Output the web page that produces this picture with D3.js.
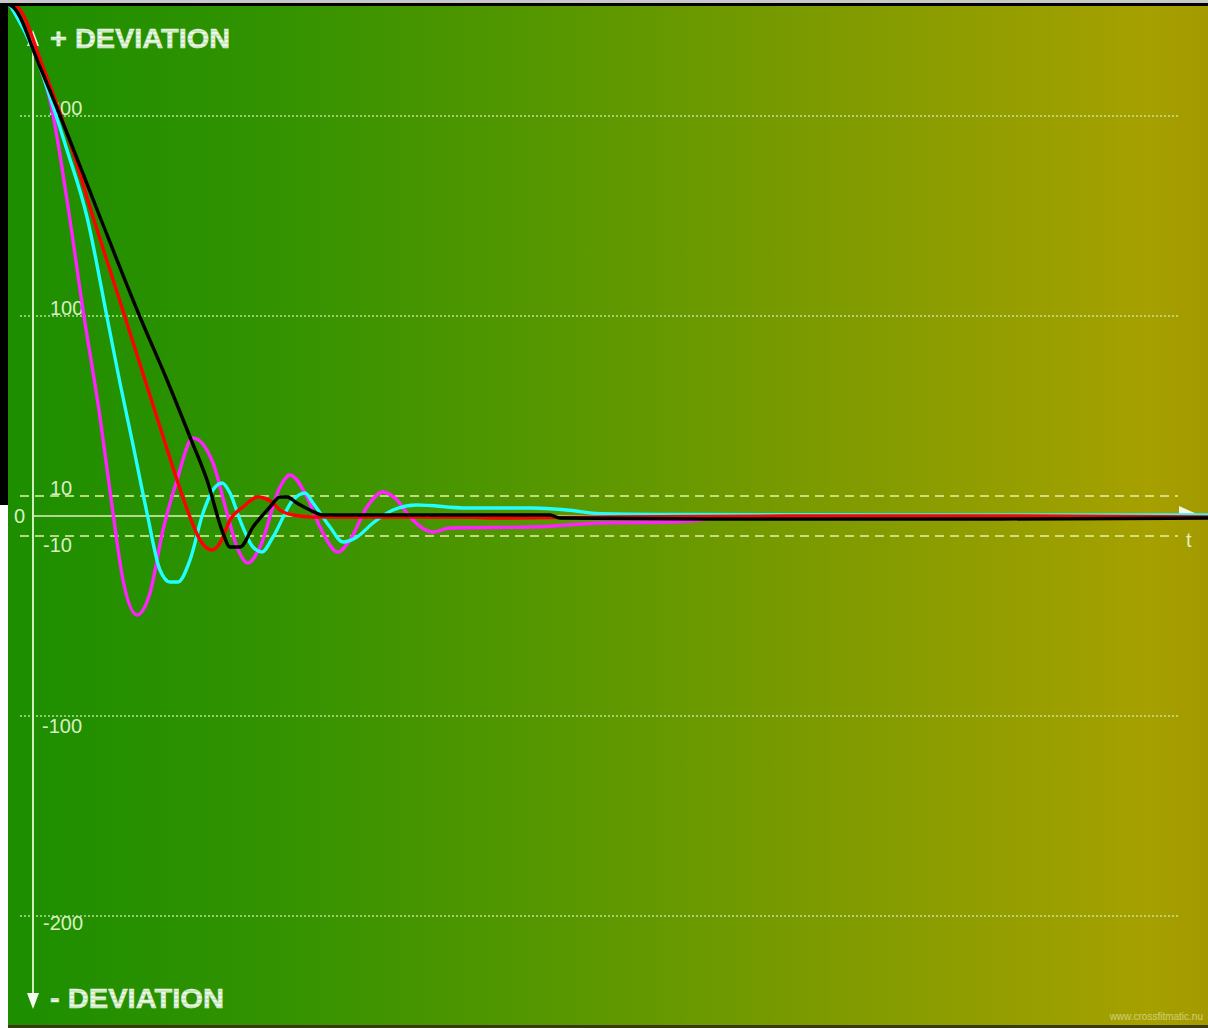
<!DOCTYPE html>
<html>
<head>
<meta charset="utf-8">
<script src="https://cdn.jsdelivr.net/npm/d3@7"></script>
<style>
  html, body { margin: 0; padding: 0; background: #ffffff; }
  svg { display: block; }
</style>
</head>
<body>
<svg id="chart" width="1208" height="1028"></svg>
<script>
// ---- data (time units, deviation values) ----
const gridTicks = [200, 100, -100, -200];
const bandTicks = [10, -10];
const tickLabels = ["200", "100", "10", "0", "-10", "-100", "-200"];
const tickValues = [200, 100, 10, 0, -10, -100, -200];

const magenta = [[0,255.5],[3,224.5],[4,208],[5.7,158],[7.3,103],[9,49.5],[10.3,1.5],[11.3,-32],[12.7,-49.5],[14,-38.5],[15.3,-7],[16.7,18],[18.3,39],[20.3,26.5],[21.7,1.5],[22.7,-15.5],[23.8,-23.5],[25,-15.5],[27,14.5],[28,20.5],[29.7,9.5],[31,-5.5],[32.8,-18],[34,-12],[35.7,4.5],[37.3,12],[38.7,8],[40,-0.5],[42.3,-8],[44,-6],[52.3,-5.5],[59,-3.5],[65.7,-3],[69,-2],[72,0],[85,0.3],[100,0.2],[119.8,0.3]];
const cyan = [[0,255.5],[3,224.5],[4,209.5],[5.7,183],[7.7,149.5],[9.7,99.5],[11,66.5],[12.2,38],[13.7,1.5],[15,-27],[16,-33],[16.8,-33],[18,-22],[19.3,1.5],[20.3,13],[21.2,16.5],[22,11.5],[23,-2],[24.3,-15.5],[25.2,-18],[26.3,-10.5],[28.3,8],[29.5,11.5],[30.3,6.5],[32,-5.5],[33.3,-13],[34.7,-10.5],[36.3,-3.5],[38.3,3],[40.7,5.5],[45.7,4],[52.3,4],[55.7,3],[59,1.2],[67,0.8],[80,0.6],[100,0.5],[119.8,0.5]];
const red = [[0,255.5],[0.7,254.5],[3.3,224.5],[5.7,191.5],[8.3,149.5],[11.5,99.5],[13.5,68],[15.1,43],[16.7,18],[18,-0.5],[19,-12],[20.2,-17],[21,-13.5],[22,-2],[23.3,4.5],[24.8,9.5],[26.3,6.5],[27,3],[28.3,0.5],[30.3,-0.5],[45,-0.5],[49,-1],[60,-0.5],[80,0],[100,0],[119.8,-0.5]];
const black = [[0,255.5],[0.3,254.5],[3,224.5],[5.7,191.5],[9,149.5],[13,99.5],[15.7,68],[18,39.5],[19.7,18],[21.3,-8.5],[22,-15.5],[23,-15.5],[24.3,-5.5],[26,4.5],[27,9.5],[27.7,9.5],[28.7,6.5],[30,3],[31.3,0.5],[54,0.5],[55,-1],[70,-1.5],[99,-1.5],[119.8,-1]];

const seriesList = [
  { data: magenta, color: "#ff22ff" },
  { data: cyan, color: "#22ffff" },
  { data: red, color: "#ff0000" },
  { data: black, color: "#000000" }
];

// ---- layout ----
const W = 1208, H = 1028;
const svg = d3.select("#chart");
const x = d3.scaleLinear().domain([0, 120]).range([10, 1210]);
const y = d3.scaleLinear().domain([-255, 255]).range([1026, 6]);

const defs = svg.append("defs");
const bg = defs.append("linearGradient").attr("id", "bg").attr("x1", "0").attr("x2", "1").attr("y1", "0").attr("y2", "0");
[[0, "#1c8e00"], [0.2, "#309200"], [0.45, "#569700"], [0.7, "#809b00"], [0.88, "#9c9f00"], [0.95, "#a6a000"], [1, "#a49a00"]]
  .forEach(([o, c]) => bg.append("stop").attr("offset", o).attr("stop-color", c));
const pat = defs.append("pattern").attr("id", "stripe").attr("patternUnits", "userSpaceOnUse")
  .attr("width", 10).attr("height", 4);
pat.append("rect").attr("width", 10).attr("height", 4).attr("fill", "#eef8ea");
pat.append("rect").attr("y", 2.6).attr("width", 10).attr("height", 1).attr("fill", "#a6d49a");
defs.append("clipPath").attr("id", "clip").append("rect").attr("x", 8).attr("y", 6).attr("width", W - 8).attr("height", H - 9);

// frame
svg.append("rect").attr("x", 0).attr("y", 0).attr("width", W).attr("height", H).attr("fill", "#ffffff");
svg.append("rect").attr("x", 0).attr("y", 0).attr("width", W).attr("height", 3).attr("fill", "#c8c8c8");
svg.append("rect").attr("x", 0).attr("y", 3).attr("width", W).attr("height", 4).attr("fill", "#000000");
svg.append("rect").attr("x", 0).attr("y", 3).attr("width", 8).attr("height", 502).attr("fill", "#000000");
svg.append("rect").attr("x", 8).attr("y", 6).attr("width", W - 8).attr("height", H - 9).attr("fill", "url(#bg)");
svg.append("rect").attr("x", 8).attr("y", H - 3).attr("width", W - 8).attr("height", 3).attr("fill", "#3a3a10");

// grid lines (dotted)
svg.append("g").selectAll("line").data(gridTicks).join("line")
  .attr("x1", 20).attr("x2", 1178)
  .attr("y1", d => y(d)).attr("y2", d => y(d))
  .attr("stroke", "#d4ecb4").attr("stroke-width", 1.3).attr("stroke-dasharray", "2,2").attr("opacity", 0.85);
// band lines (dashed)
svg.append("g").selectAll("line").data(bandTicks).join("line")
  .attr("x1", 20).attr("x2", 1178)
  .attr("y1", d => y(d)).attr("y2", d => y(d))
  .attr("stroke", "#e6f2a8").attr("stroke-width", 1.6).attr("stroke-dasharray", "9,6");
// zero line
svg.append("line").attr("x1", 33).attr("x2", 1185).attr("y1", y(0)).attr("y2", y(0))
  .attr("stroke", "#dcf4c0").attr("stroke-width", 1.6);
// x arrow
svg.append("path").attr("d", "M1179,506 L1199,515 L1179,518 Z").attr("fill", "#f4fae8");
svg.append("text").attr("x", 1186).attr("y", 547).text("t")
  .attr("font-family", "Liberation Sans, Arial, sans-serif").attr("font-size", 20).attr("fill", "#e4f0c0");

// y axis
svg.append("line").attr("x1", 33).attr("x2", 33).attr("y1", 46).attr("y2", 996)
  .attr("stroke", "#ccf0b8").attr("stroke-width", 2);
svg.append("path").attr("d", "M33,30 L39,46 L27,46 Z").attr("fill", "#eef8e8");
svg.append("path").attr("d", "M27,993 L39,993 L33,1009 Z").attr("fill", "#f4fbf0");

// tick labels
const labelPos = { "200": [49, 115], "100": [50, 315], "10": [50, 495], "0": [14, 523], "-10": [43, 552], "-100": [42, 733], "-200": [43, 930] };
svg.append("g").selectAll("text").data(tickLabels).join("text")
  .attr("x", d => labelPos[d][0])
  .attr("y", d => labelPos[d][1])
  .text(d => d)
  .attr("font-family", "Liberation Sans, Arial, sans-serif").attr("font-size", 20)
  .attr("fill", "#d8f0c4");

// DEVIATION titles
svg.append("text").attr("x", 50).attr("y", 48).text("+ DEVIATION")
  .attr("font-family", "Liberation Sans, Arial, sans-serif").attr("font-weight", "bold")
  .attr("font-size", 28).attr("textLength", 180).attr("lengthAdjust", "spacingAndGlyphs")
  .attr("fill", "url(#stripe)").attr("stroke", "#dcefd4").attr("stroke-width", 0.6);
svg.append("text").attr("x", 50).attr("y", 1008).text("- DEVIATION")
  .attr("font-family", "Liberation Sans, Arial, sans-serif").attr("font-weight", "bold")
  .attr("font-size", 28).attr("textLength", 174).attr("lengthAdjust", "spacingAndGlyphs")
  .attr("fill", "url(#stripe)").attr("stroke", "#dcefd4").attr("stroke-width", 0.6);

// series
const line = d3.line().x(d => x(d[0])).y(d => y(d[1])).curve(d3.curveMonotoneX);
svg.append("g").attr("clip-path", "url(#clip)").selectAll("path").data(seriesList).join("path")
  .attr("d", d => line(d.data))
  .attr("fill", "none").attr("stroke", d => d.color).attr("stroke-width", 3.4)
  .attr("stroke-linejoin", "round");

// watermark
svg.append("text").attr("x", 1203).attr("y", 1020).attr("text-anchor", "end").text("www.crossfitmatic.nu")
  .attr("font-family", "Liberation Sans, Arial, sans-serif").attr("font-size", 10)
  .attr("fill", "#e0e4b0").attr("opacity", 0.7);
</script>
</body>
</html>
